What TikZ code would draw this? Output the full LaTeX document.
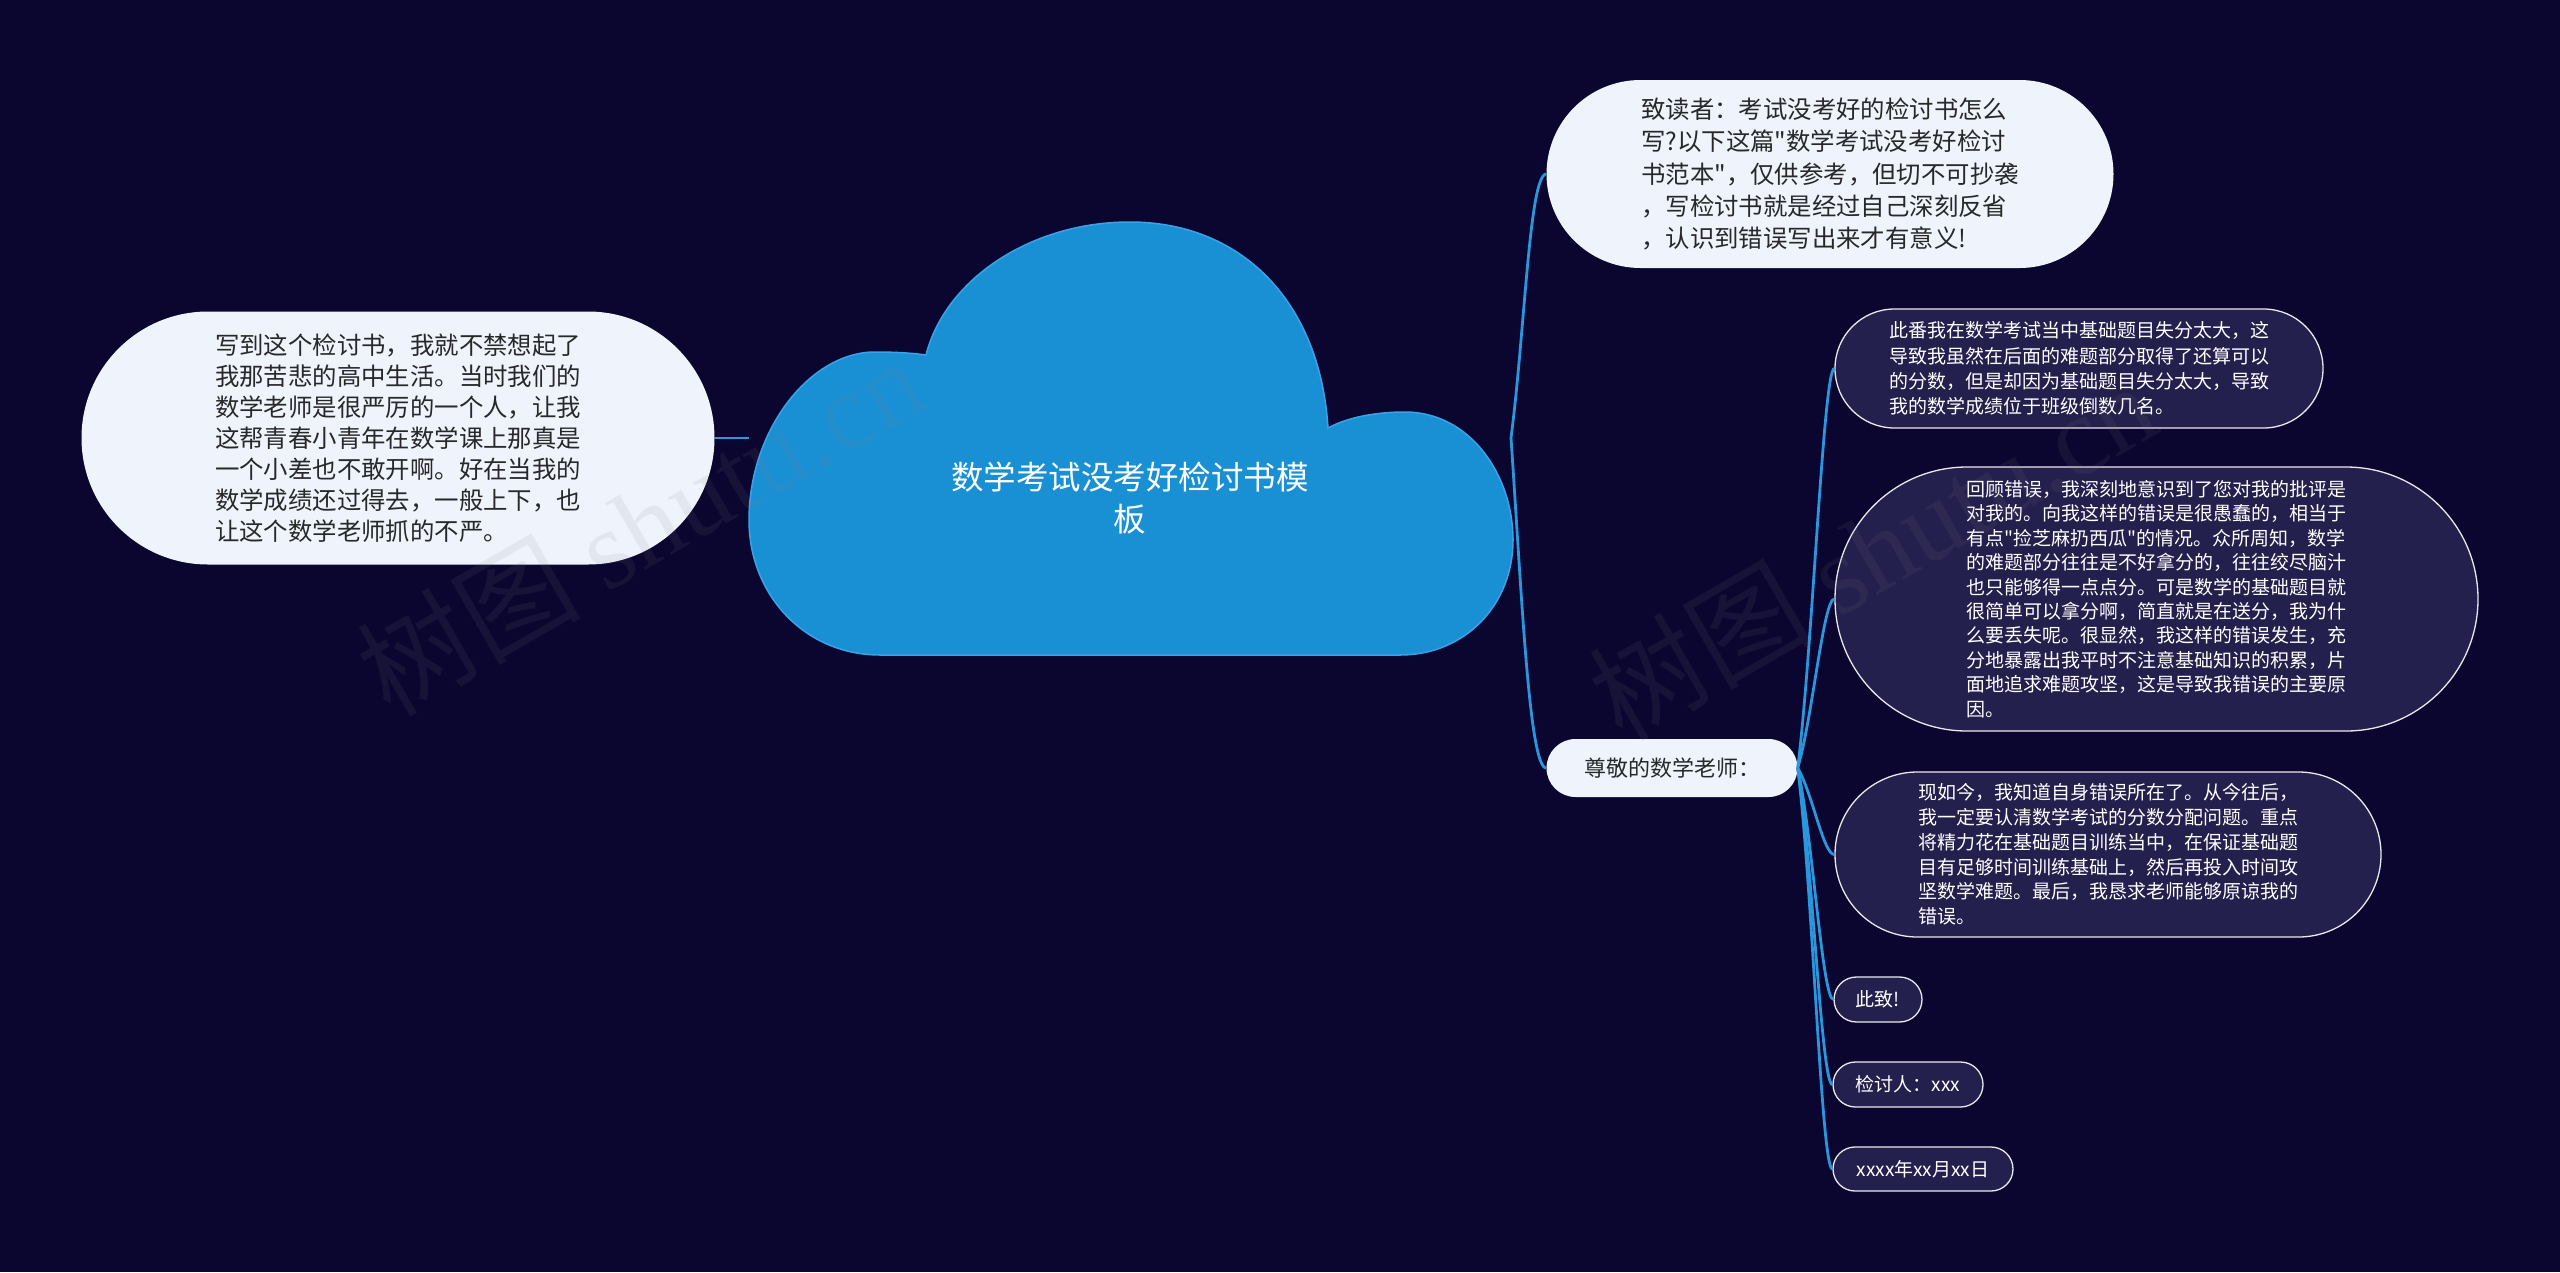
\documentclass[tikz,border=0pt]{standalone}
\usepackage{fontspec}
\setmainfont{Noto Sans CJK SC}
\newfontfamily\cjk{Noto Sans CJK SC}
\newfontfamily\wmlatin{Liberation Serif}
\usetikzlibrary{shapes.misc}
\definecolor{bg}{RGB}{10,6,48}
\definecolor{cloudfill}{RGB}{25,144,212}
\definecolor{cloudline}{RGB}{60,162,232}
\definecolor{lightfill}{RGB}{238,243,252}
\definecolor{darkfill}{RGB}{36,32,78}
\definecolor{conncol}{RGB}{42,150,220}
\definecolor{darktext}{RGB}{40,40,40}
\begin{document}
\begin{tikzpicture}[x=1pt,y=-1pt,
  lightbox/.style={rounded rectangle, fill=lightfill, text=darktext, align=left, inner sep=0pt},
  darkbox/.style={rounded rectangle, fill=darkfill, draw=white!90!darkfill, line width=1.3pt, text=white, align=left, inner sep=0pt},
  conn/.style={draw=conncol, line width=2.8pt},
  smalltext/.style={font=\cjk\fontsize{19pt}{24.8pt}\selectfont},
  wm/.style={text=gray, opacity=0.1, rotate=30, font=\cjk\fontsize{112pt}{120pt}\selectfont}
]
\fill[bg] (0,0) rectangle (2560,1272);
\useasboundingbox (0,0) rectangle (2560,1272);

% cloud
\draw[fill=cloudfill, draw=cloudline, line width=1.5pt]
  (926,355) .. controls (945,280) and (1030,222) .. (1130,222)
  .. controls (1240,222) and (1320,300) .. (1328,428)
  .. controls (1350,416) and (1380,412) .. (1405,412)
  .. controls (1470,412) and (1513,475) .. (1513,540)
  .. controls (1513,605) and (1465,655) .. (1400,655)
  -- (880,655)
  .. controls (805,655) and (749,595) .. (749,520)
  .. controls (749,430) and (810,352) .. (875,352)
  .. controls (895,352) and (912,353) .. (926,355) -- cycle;
\node[text=white, align=center, font=\cjk\fontsize{32.5pt}{42pt}\selectfont] (root) at (1130,498) {数学考试没考好检讨书模\\板};
\coordinate (rootW) at (749,438);
\coordinate (rootE) at (1511,438);

% left node
\node[lightbox, font=\cjk\fontsize{24.4pt}{31pt}\selectfont, minimum width=633pt, minimum height=253pt] (L) at (398,438) {写到这个检讨书，我就不禁想起了\\我那苦悲的高中生活。当时我们的\\数学老师是很严厉的一个人，让我\\这帮青春小青年在数学课上那真是\\一个小差也不敢开啊。好在当我的\\数学成绩还过得去，一般上下，也\\让这个数学老师抓的不严。};

% top right node
\node[lightbox, font=\cjk\fontsize{24.4pt}{32.3pt}\selectfont, minimum width=567pt, minimum height=188pt] (T) at (1830,174) {致读者：考试没考好的检讨书怎么\\写?以下这篇"数学考试没考好检讨\\书范本"，仅供参考，但切不可抄袭\\，写检讨书就是经过自己深刻反省\\，认识到错误写出来才有意义!};

% salutation
\node[lightbox, font=\cjk\fontsize{22pt}{26pt}\selectfont, minimum width=251pt, minimum height=58pt] (S) at (1672,768) {尊敬的数学老师：};

% dark nodes
\node[darkbox, font=\cjk\fontsize{19pt}{25.3pt}\selectfont, minimum width=488pt, minimum height=119pt] (n1) at (2079,368.5) {此番我在数学考试当中基础题目失分太大，这\\导致我虽然在后面的难题部分取得了还算可以\\的分数，但是却因为基础题目失分太大，导致\\我的数学成绩位于班级倒数几名。};
\node[darkbox, font=\cjk\fontsize{19pt}{24.4pt}\selectfont, minimum width=643pt, minimum height=264pt] (n2) at (2156.5,599) {回顾错误，我深刻地意识到了您对我的批评是\\对我的。向我这样的错误是很愚蠢的，相当于\\有点"捡芝麻扔西瓜"的情况。众所周知，数学\\的难题部分往往是不好拿分的，往往绞尽脑汁\\也只能够得一点点分。可是数学的基础题目就\\很简单可以拿分啊，简直就是在送分，我为什\\么要丢失呢。很显然，我这样的错误发生，充\\分地暴露出我平时不注意基础知识的积累，片\\面地追求难题攻坚，这是导致我错误的主要原\\因。};
\node[darkbox, font=\cjk\fontsize{19pt}{24.8pt}\selectfont, minimum width=546pt, minimum height=165pt] (n3) at (2108,854.5) {现如今，我知道自身错误所在了。从今往后，\\我一定要认清数学考试的分数分配问题。重点\\将精力花在基础题目训练当中，在保证基础题\\目有足够时间训练基础上，然后再投入时间攻\\坚数学难题。最后，我恳求老师能够原谅我的\\错误。};
\node[darkbox, smalltext, minimum width=88pt, minimum height=45pt] (n4) at (1878,999.5) {此致!};
\node[darkbox, smalltext, minimum width=150pt, minimum height=45pt] (n5) at (1908,1084.5) {检讨人：xxx};
\node[darkbox, smalltext, minimum width=180pt, minimum height=44pt] (n6) at (1923,1169) {xxxx年xx月xx日};

% connectors
\draw[conn] (L.east) -- (rootW);
\draw[conn] (rootE) .. controls +(14,-108) and +(-17,0) .. (T.west);
\draw[conn] (rootE) .. controls +(11,162) and +(-17,0) .. (S.west);
\draw[conn] (S.east) .. controls +(15,-120) and +(-11,0) .. (n1.west);
\draw[conn] (S.east) .. controls +(15,-51) and +(-11,0) .. (n2.west);
\draw[conn] (S.east) .. controls +(15,26) and +(-11,0) .. (n3.west);
\draw[conn] (S.east) .. controls +(15,69) and +(-11,0) .. (n4.west);
\draw[conn] (S.east) .. controls +(15,95) and +(-11,0) .. (n5.west);
\draw[conn] (S.east) .. controls +(15,120) and +(-11,0) .. (n6.west);

% watermarks
\node[wm] (wm1) at (640,525) {树图 {\wmlatin shutu.cn}};
\node[wm] (wm2) at (1872,550) {树图 {\wmlatin shutu.cn}};
\end{tikzpicture}
\end{document}
